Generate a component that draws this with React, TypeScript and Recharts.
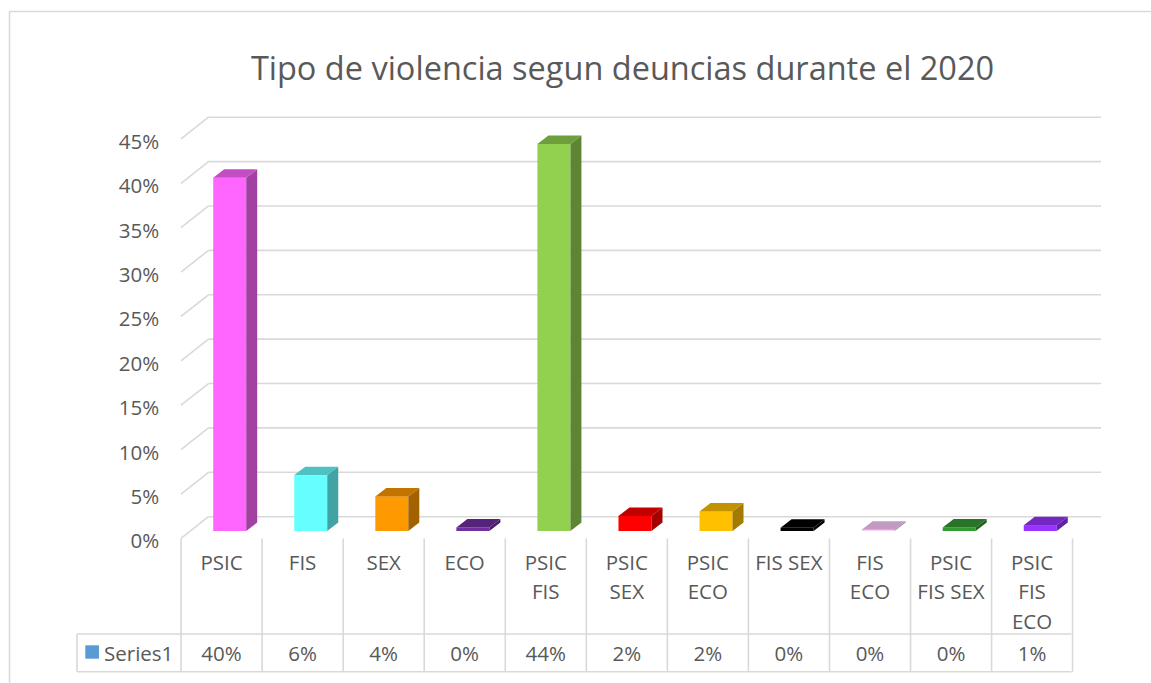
import React from 'react';
import { BarChart, Bar, XAxis, YAxis, CartesianGrid, Cell } from 'recharts';

// ---- data ----
const categories = [
  'PSIC',
  'FIS',
  'SEX',
  'ECO',
  'PSIC\nFIS',
  'PSIC\nSEX',
  'PSIC\nECO',
  'FIS SEX',
  'FIS\nECO',
  'PSIC\nFIS SEX',
  'PSIC\nFIS\nECO',
];
const values = [0.398, 0.063, 0.039, 0.004, 0.436, 0.017, 0.022, 0.0037, 0.0015, 0.004, 0.0066];
const yTicks = [0, 0.05, 0.1, 0.15, 0.2, 0.25, 0.3, 0.35, 0.4, 0.45];
const seriesName = 'Series1';
const chartTitle = 'Tipo de violencia segun deuncias durante el 2020';

// ---- styles ----
const COLORS = [
  '#FF66FF',
  '#66FFFF',
  '#FF9900',
  '#7030A0',
  '#92D050',
  '#FF0000',
  '#FFC000',
  '#000000',
  '#FFCCFF',
  '#339933',
  '#9933FF',
];
const TEXT = '#595959';
const LINE = '#d9d9d9';
const FONT = '"Open Sans", Lato, sans-serif';
const FS = 20.5;

const W = 1151;
const H = 683;
const PLOT_L = 189.2;
const PLOT_R = 1080.8;
const PLOT_T = 131.5;
const PLOT_B = 531;
const Y_AXIS_W = 60;
const X_AXIS_H = 30;

// 3D offsets
const BACK_DY = -14.3; // bar plane -> back wall
const BACK_DX = 19.3;
const FRONT_DY = 7.4; // bar plane -> front edge
const FRONT_DX = -8.2;
const BAR_DX = 11;
const BAR_DY = -8.4;
const CELL_W = 80.95;

const data = categories.map((c, i) => ({ name: c, value: values[i] }));

function shade(hex: string, f: number) {
  const n = parseInt(hex.slice(1), 16);
  const r = Math.round(((n >> 16) & 255) * f);
  const g = Math.round(((n >> 8) & 255) * f);
  const b = Math.round((n & 255) * f);
  return `rgb(${r},${g},${b})`;
}

const Bar3D = (props: any) => {
  const { x, y, width, height, fill } = props;
  if (x == null || y == null) return null;
  const h = Math.max(height, 0);
  const side = shade(fill, 0.64);
  const top = fill === '#000000' ? '#000000' : shade(fill, 0.76);
  return (
    <g>
      <rect x={x} y={y} width={width} height={h} fill={fill} />
      <polygon
        points={`${x + width},${y} ${x + width + BAR_DX},${y + BAR_DY} ${x + width + BAR_DX},${y + h + BAR_DY} ${x + width},${y + h}`}
        fill={side}
      />
      <polygon
        points={`${x},${y} ${x + width},${y} ${x + width + BAR_DX},${y + BAR_DY} ${x + BAR_DX},${y + BAR_DY}`}
        fill={top}
      />
    </g>
  );
};

const GridLine = (props: any) => {
  const { x1, x2, y1 } = props;
  const yb = y1 + BACK_DY;
  const yf = y1 + FRONT_DY;
  return (
    <g key={`g-${y1}`}>
      <line x1={x1 + BACK_DX} x2={x2 + 20.2} y1={yb} y2={yb} stroke={LINE} strokeWidth={1.6} />
      <line x1={x1 + FRONT_DX} y1={yf} x2={x1 + BACK_DX} y2={yb} stroke={LINE} strokeWidth={1.6} />
    </g>
  );
};

const YTick = (props: any) => {
  const { y, payload } = props;
  return (
    <text
      x={PLOT_L - 30}
      y={y + FRONT_DY + 2}
      textAnchor="end"
      dominantBaseline="central"
      fill={TEXT}
      fontSize={FS}
      fontFamily={FONT}
    >
      {`${Math.round(payload.value * 100)}%`}
    </text>
  );
};

const XTick = (props: any) => {
  const { x, index, payload } = props;
  const fx = x + FRONT_DX;
  const left = fx - CELL_W / 2;
  const right = fx + CELL_W / 2;
  const topY = PLOT_B + FRONT_DY;
  const rowY = PLOT_B + 103;
  const botY = PLOT_B + 140.7;
  const lines = String(payload.value).split('\n');
  const v = values[index];
  const n = categories.length;
  return (
    <g>
      <line x1={left} x2={left} y1={topY} y2={botY} stroke={LINE} strokeWidth={1.6} />
      {index === n - 1 && (
        <line x1={right} x2={right} y1={topY} y2={botY} stroke={LINE} strokeWidth={1.6} />
      )}
      {index === 0 && (
        <g>
          <line x1={77} x2={left + n * CELL_W} y1={rowY} y2={rowY} stroke={LINE} strokeWidth={1.6} />
          <line x1={77} x2={left + n * CELL_W} y1={botY} y2={botY} stroke={LINE} strokeWidth={1.6} />
          <line x1={77} x2={77} y1={rowY} y2={botY} stroke={LINE} strokeWidth={1.6} />
          <rect x={85.3} y={645.3} width={13.7} height={13.4} fill="#5B9BD5" />
          <text
            x={104}
            y={652.5}
            dominantBaseline="central"
            fill={TEXT}
            fontSize={FS}
            fontFamily={FONT}
          >
            {seriesName}
          </text>
        </g>
      )}
      {lines.map((l, i) => (
        <text
          key={i}
          x={fx}
          y={PLOT_B + 30.7 + i * 29.5}
          textAnchor="middle"
          dominantBaseline="central"
          fill={TEXT}
          fontSize={FS}
          fontFamily={FONT}
        >
          {l}
        </text>
      ))}
      <text
        x={fx}
        y={652.5}
        textAnchor="middle"
        dominantBaseline="central"
        fill={TEXT}
        fontSize={FS}
        fontFamily={FONT}
      >
        {`${Math.round(v * 100)}%`}
      </text>
    </g>
  );
};

export default function App() {
  return (
    <div style={{ position: 'absolute', left: 0, top: 0, width: W, height: H, background: '#fff', overflow: 'hidden' }}>
      <svg width={W} height={H} style={{ position: 'absolute', left: 0, top: 0 }}>
        <rect x={9.5} y={11.5} width={1300} height={800} fill="#fff" stroke={LINE} strokeWidth={1.5} />
        <text
          x={622.5}
          y={67}
          textAnchor="middle"
          dominantBaseline="central"
          fill={TEXT}
          fontSize={32.5}
          fontFamily={FONT}
        >
          {chartTitle}
        </text>
      </svg>
      <div style={{ position: 'absolute', left: 0, top: 0 }}>
        <BarChart
          width={W}
          height={H}
          data={data}
          margin={{
            top: PLOT_T,
            bottom: H - PLOT_B - X_AXIS_H,
            left: PLOT_L - Y_AXIS_W,
            right: W - PLOT_R,
          }}
        >
          <CartesianGrid vertical={false} horizontal={(p: any) => <GridLine {...p} />} />
          <XAxis
            dataKey="name"
            interval={0}
            height={X_AXIS_H}
            axisLine={false}
            tickLine={false}
            tick={(p: any) => <XTick {...p} />}
          />
          <YAxis
            domain={[0, 0.45]}
            ticks={yTicks}
            width={Y_AXIS_W}
            axisLine={false}
            tickLine={false}
            tick={(p: any) => <YTick {...p} />}
          />
          <Bar dataKey="value" barSize={33} isAnimationActive={false} shape={(p: any) => <Bar3D {...p} />}>
            {data.map((d, i) => (
              <Cell key={d.name} fill={COLORS[i]} />
            ))}
          </Bar>
        </BarChart>
      </div>
    </div>
  );
}
